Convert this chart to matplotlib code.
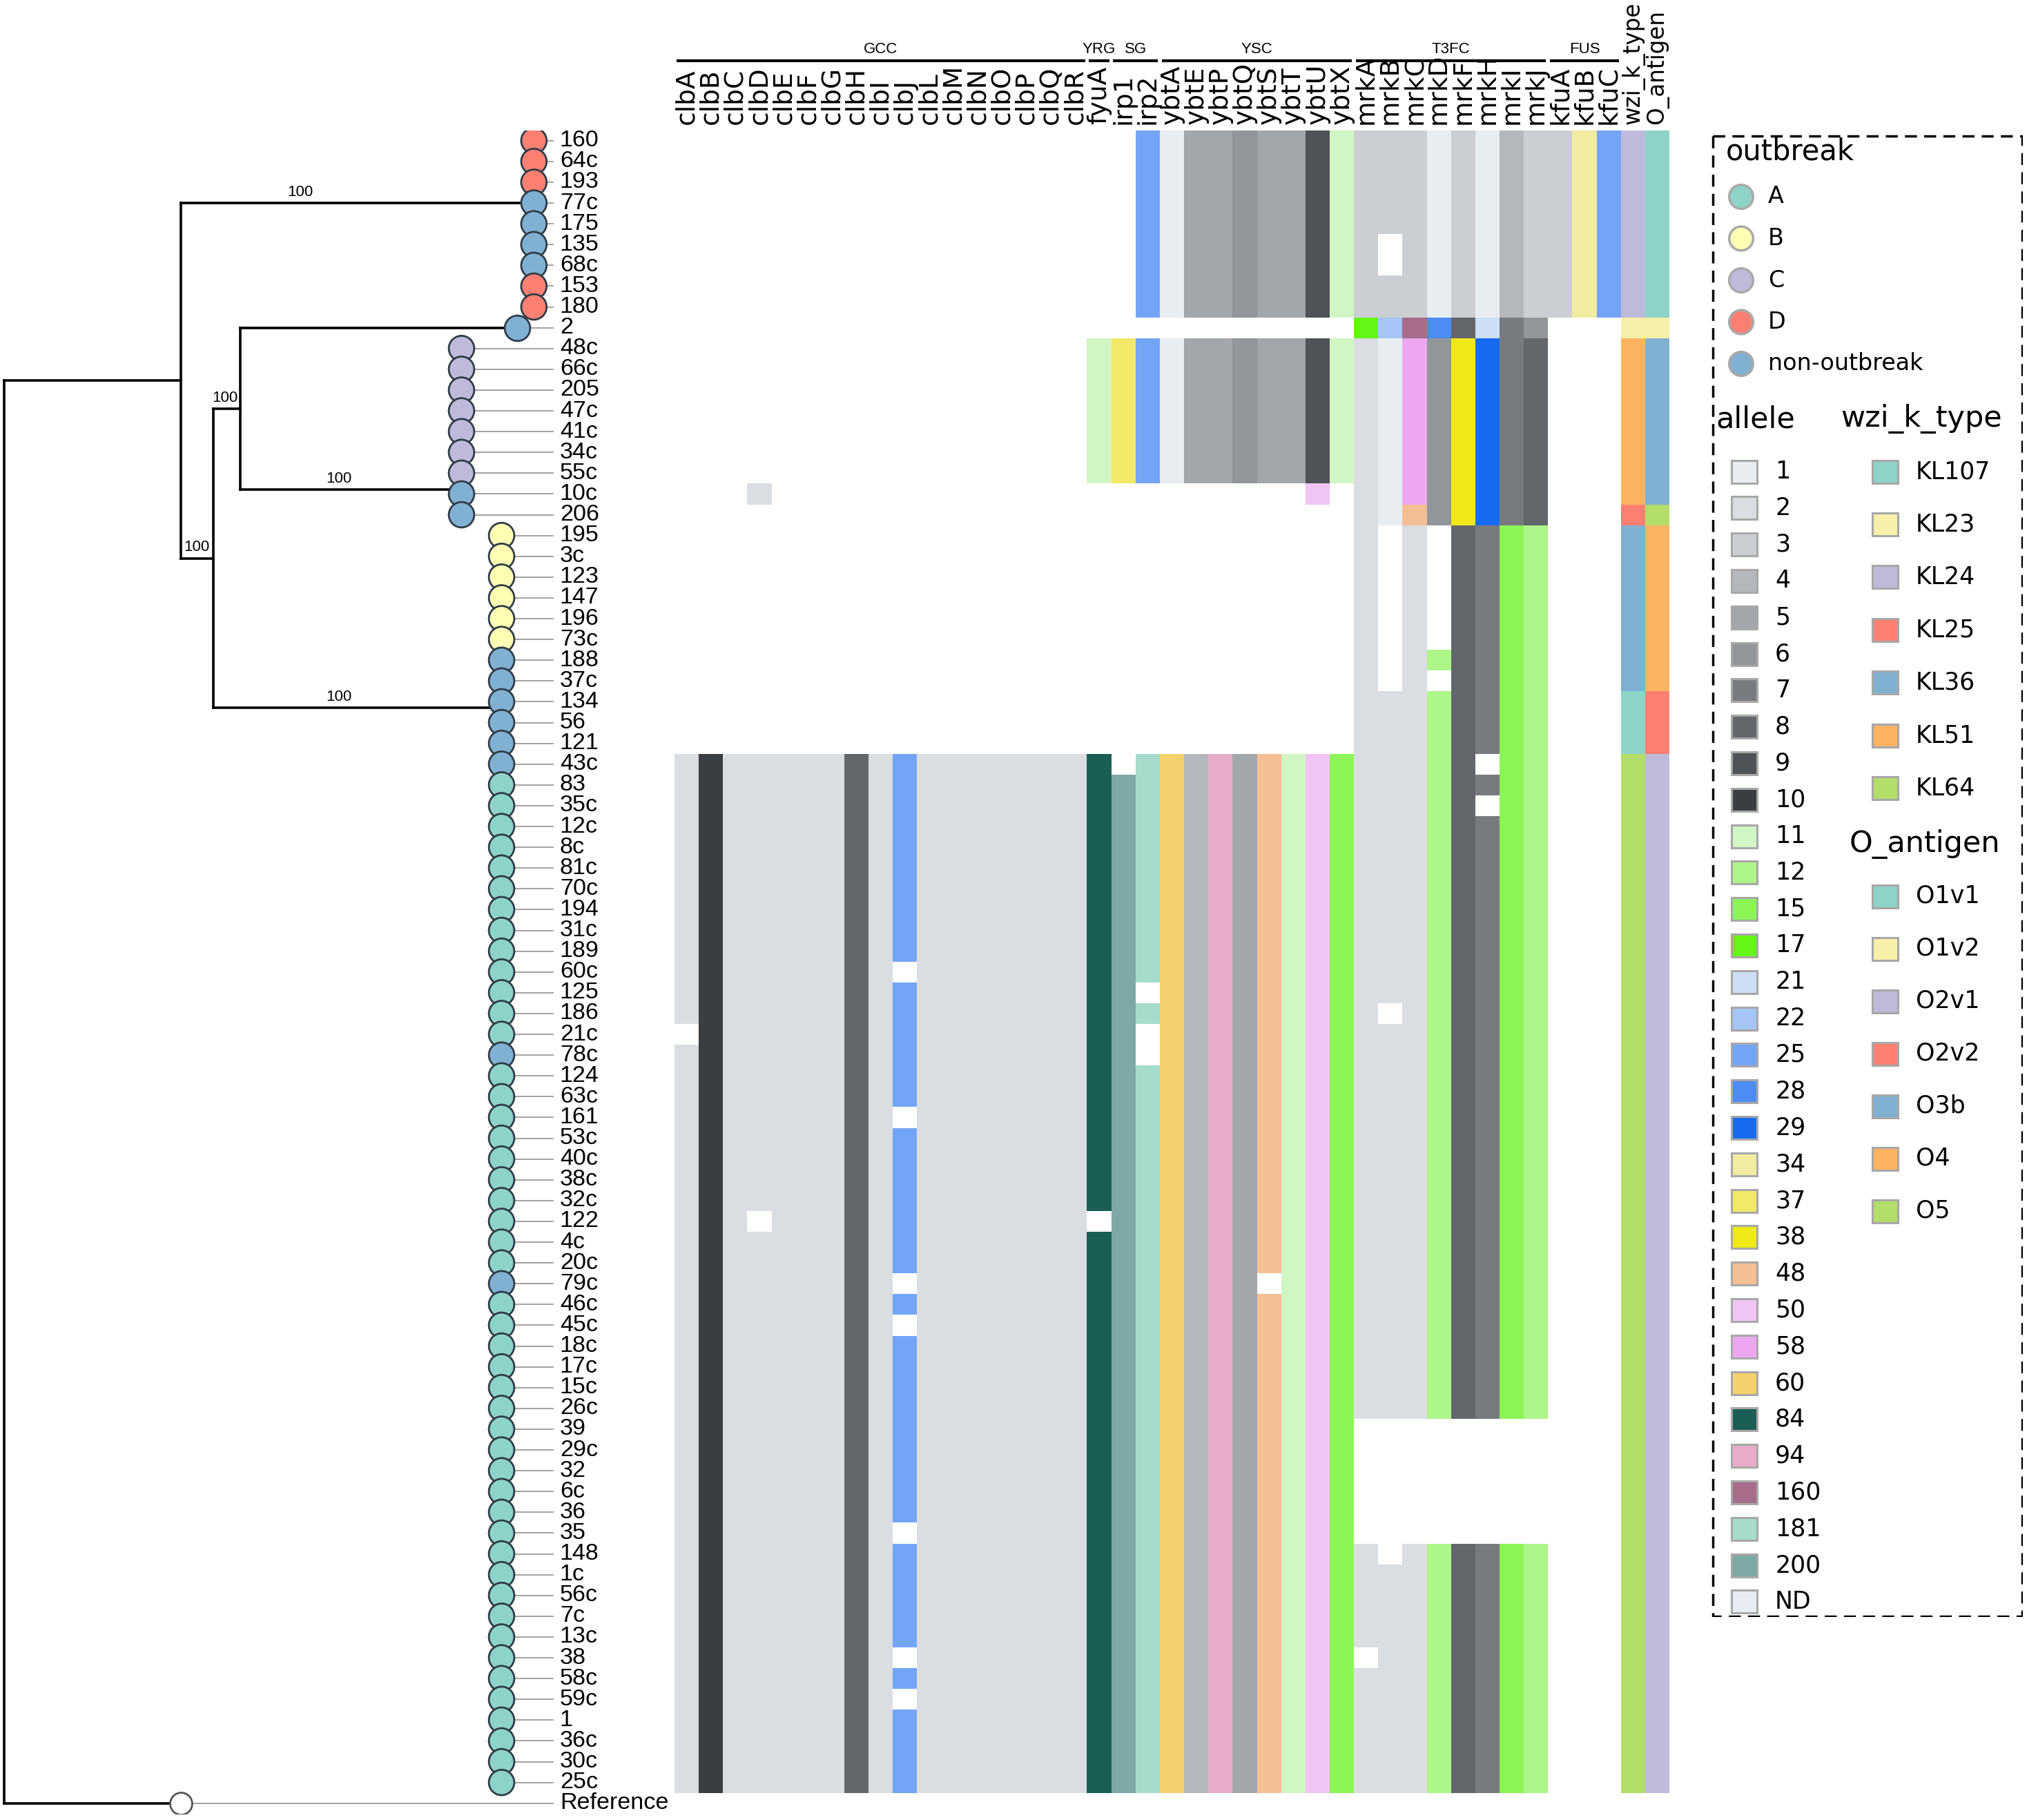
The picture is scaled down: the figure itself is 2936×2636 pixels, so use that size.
import numpy as np
import matplotlib
matplotlib.use("Agg")
import matplotlib.pyplot as plt
import matplotlib.transforms as mtransforms
from matplotlib.colors import ListedColormap, BoundaryNorm
from matplotlib.patches import Rectangle

plt.rcParams["font.family"] = ["DejaVu Sans"]
TIP_FONT = ["Liberation Sans", "DejaVu Sans"]

# ---------------------------------------------------------------- isolates
TIPS = ["160", "64c", "193", "77c", "175", "135", "68c", "153", "180",
        "2",
        "48c", "66c", "205", "47c", "41c", "34c", "55c", "10c", "206",
        "195", "3c", "123", "147", "196", "73c", "188", "37c", "134", "56", "121",
        "43c", "83", "35c", "12c", "8c", "81c", "70c", "194", "31c", "189",
        "60c", "125", "186", "21c", "78c", "124", "63c", "161", "53c", "40c",
        "38c", "32c", "122", "4c", "20c", "79c", "46c", "45c", "18c", "17c",
        "15c", "26c", "39", "29c", "32", "6c", "36", "35", "148", "1c",
        "56c", "7c", "13c", "38", "58c", "59c", "1", "36c", "30c", "25c"]
# outbreak per isolate (A-D, N = non-outbreak), in rows of ten
OUTBREAK = ("DDDNNNNDDN" "CCCCCCCNNB" "BBBBBNNNNN" "NAAAAAAAAA"
            "AAAANAAAAA" "AAAAANAAAA" "AAAAAAAAAA" "AAAAAAAAAA")
OUTBREAK_NAMES = {"A": "A", "B": "B", "C": "C", "D": "D", "N": "non-outbreak"}
OUTBREAK_COLORS = {"A": "#8dd3c7", "B": "#ffffb3", "C": "#bebada",
                   "D": "#fb8072", "N": "#80b1d3"}

# ---------------------------------------------------------------- tree
# internal nodes: depth (tree units) and children
NODES = {"root": (3, ["n1", "Reference"]),
         "n1": (140, ["D", "nX"]),
         "nX": (165, ["nY", "AB"]),
         "nY": (186, ["tip2", "C"])}
# collapsed clades: depth of tip markers, first row, last row, row the branch meets
CLADES = {"D": (413, 0, 8, 3.0),
          "tip2": (400, 9, 9, 9.0),
          "C": (357, 10, 18, 16.8),
          "AB": (388, 19, 79, 27.3)}
REFERENCE_DEPTH = 140
# bootstrap support on the branch leading to a child, and x of its label
SUPPORT = {"D": (100, 232), "nX": (100, 152), "nY": (100, 174),
           "C": (100, 262), "AB": (100, 262)}

# ---------------------------------------------------------------- genes
GENES = ["clbA", "clbB", "clbC", "clbD", "clbE", "clbF", "clbG", "clbH", "clbI",
         "clbJ", "clbL", "clbM", "clbN", "clbO", "clbP", "clbQ", "clbR",
         "fyuA", "irp1", "irp2",
         "ybtA", "ybtE", "ybtP", "ybtQ", "ybtS", "ybtT", "ybtU", "ybtX",
         "mrkA", "mrkB", "mrkC", "mrkD", "mrkF", "mrkH", "mrkI", "mrkJ",
         "kfuA", "kfuB", "kfuC"]
TYPING = ["wzi_k_type", "O_antigen"]
GROUPS = [("GCC", 0, 16), ("YRG", 17, 17), ("SG", 18, 19),
          ("YSC", 20, 27), ("T3FC", 28, 35), ("FUS", 36, 38)]

# allele calls: (first row, last row, allele); rows not listed are blank
GCC_CALLS = {
    "clbA": [(30, 42, "2"), (44, 79, "2")],
    "clbB": [(30, 79, "10")],
    "clbC": [(30, 79, "2")],
    "clbD": [(17, 17, "2"), (30, 51, "2"), (53, 79, "2")],
    "clbE": [(30, 79, "2")],
    "clbF": [(30, 79, "2")],
    "clbG": [(30, 79, "2")],
    "clbH": [(30, 79, "8")],
    "clbI": [(30, 79, "2")],
    "clbJ": [(30, 39, "25"), (41, 46, "25"), (48, 54, "25"), (56, 56, "25"),
             (58, 66, "25"), (68, 72, "25"), (74, 74, "25"), (76, 79, "25")],
    "clbL": [(30, 79, "2")],
    "clbM": [(30, 79, "2")],
    "clbN": [(30, 79, "2")],
    "clbO": [(30, 79, "2")],
    "clbP": [(30, 79, "2")],
    "clbQ": [(30, 79, "2")],
    "clbR": [(30, 79, "2")],
}
YRG_SG_CALLS = {
    "fyuA": [(10, 16, "11"), (30, 51, "84"), (53, 79, "84")],
    "irp1": [(10, 16, "37"), (31, 79, "200")],
    "irp2": [(0, 8, "25"), (10, 16, "25"), (30, 40, "181"), (42, 42, "181"),
             (45, 79, "181")],
}
YSC_CALLS = {
    "ybtA": [(0, 8, "1"), (10, 16, "1"), (30, 79, "60")],
    "ybtE": [(0, 8, "5"), (10, 16, "5"), (30, 79, "4")],
    "ybtP": [(0, 8, "5"), (10, 16, "5"), (30, 79, "94")],
    "ybtQ": [(0, 8, "6"), (10, 16, "6"), (30, 79, "5")],
    "ybtS": [(0, 8, "5"), (10, 16, "5"), (30, 54, "48"), (56, 79, "48")],
    "ybtT": [(0, 8, "5"), (10, 16, "5"), (30, 79, "11")],
    "ybtU": [(0, 8, "9"), (10, 16, "9"), (17, 17, "50"), (30, 79, "50")],
    "ybtX": [(0, 8, "11"), (10, 16, "11"), (30, 79, "15")],
}
T3FC_CALLS = {
    "mrkA": [(0, 8, "3"), (9, 9, "17"), (10, 61, "2"), (68, 72, "2"), (74, 79, "2")],
    "mrkB": [(0, 4, "3"), (7, 8, "3"), (9, 9, "22"), (10, 18, "1"),
             (27, 41, "2"), (43, 61, "2"), (69, 79, "2")],
    "mrkC": [(0, 8, "3"), (9, 9, "160"), (10, 17, "58"), (18, 18, "48"),
             (19, 61, "2"), (68, 79, "2")],
    "mrkD": [(0, 8, "1"), (9, 9, "28"), (10, 18, "6"), (25, 25, "12"),
             (27, 61, "12"), (68, 79, "12")],
    "mrkF": [(0, 8, "3"), (9, 9, "8"), (10, 18, "38"), (19, 61, "8"), (68, 79, "8")],
    "mrkH": [(0, 8, "1"), (9, 9, "21"), (10, 18, "29"), (19, 29, "7"),
             (31, 31, "7"), (33, 61, "7"), (68, 79, "7")],
    "mrkI": [(0, 8, "4"), (9, 9, "7"), (10, 18, "7"), (19, 61, "15"), (68, 79, "15")],
    "mrkJ": [(0, 8, "3"), (9, 9, "6"), (10, 18, "8"), (19, 61, "12"), (68, 79, "12")],
}
FUS_CALLS = {
    "kfuA": [(0, 8, "3")],
    "kfuB": [(0, 8, "34")],
    "kfuC": [(0, 8, "25")],
}
TYPING_CALLS = {
    "wzi_k_type": [(0, 8, "KL24"), (9, 9, "KL23"), (10, 17, "KL51"), (18, 18, "KL25"),
                   (19, 26, "KL36"), (27, 29, "KL107"), (30, 79, "KL64")],
    "O_antigen": [(0, 8, "O1v1"), (9, 9, "O1v2"), (10, 17, "O3b"), (18, 18, "O5"),
                  (19, 26, "O4"), (27, 29, "O2v2"), (30, 79, "O2v1")],
}

ALLELES = ["1", "2", "3", "4", "5", "6", "7", "8", "9", "10", "11", "12", "15", "17",
           "21", "22", "25", "28", "29", "34", "37", "38", "48", "50", "58", "60",
           "84", "94", "160", "181", "200", "ND"]
ALLELE_COLORS = ["#e8edf2", "#dadde1", "#cbced2", "#b4b7bb", "#a3a7ab", "#929599",
                 "#777b7f", "#63666b", "#4f5256", "#3a3e41", "#d1f5c3", "#aef58a",
                 "#8cf556", "#62f714", "#cddff5", "#a4c5f5", "#73a5f7", "#4b8df2",
                 "#166cf0", "#f2eca0", "#f2e968", "#f0e916", "#f4bf95", "#f0c5f4",
                 "#eca7f0", "#f3d16c", "#1b5e55", "#e7adc8", "#a76c89", "#a5dccc",
                 "#7ca9a5", "#e8edf4"]
K_TYPES = ["KL107", "KL23", "KL24", "KL25", "KL36", "KL51", "KL64"]
O_TYPES = ["O1v1", "O1v2", "O2v1", "O2v2", "O3b", "O4", "O5"]
SET3 = ["#8dd3c7", "#f6f0aa", "#bebada", "#fb8072", "#80b1d3", "#fdb462", "#b3de69"]

# ---------------------------------------------------------------- layout
W, H, DPI = 2936, 2636, 100
HEAT_L, HEAT_R = 977, 2418
ROW_TOP, ROW_BOT = 188.7, 2626.8
N_ROWS = len(TIPS) + 1          # + Reference

fig = plt.figure(figsize=(W / DPI, H / DPI), dpi=DPI)
fig.patch.set_facecolor("white")
ax_b = 1 - ROW_BOT / H
ax_hgt = (ROW_BOT - ROW_TOP) / H

# ---------------------------------------------------------------- heatmap
columns = GENES + TYPING
categories = ALLELES + ["K:" + k for k in K_TYPES] + ["O:" + o for o in O_TYPES]
cat_colors = ALLELE_COLORS + SET3 + SET3
cat_index = {c: i for i, c in enumerate(categories)}

calls = {}
for table in (GCC_CALLS, YRG_SG_CALLS, YSC_CALLS, T3FC_CALLS, FUS_CALLS):
    calls.update(table)

codes = np.full((len(TIPS), len(columns)), np.nan)
for j, col in enumerate(columns):
    if col in TYPING_CALLS:
        prefix = "K:" if col == "wzi_k_type" else "O:"
        runs = [(a, b, prefix + v) for a, b, v in TYPING_CALLS[col]]
    else:
        runs = calls.get(col, [])
    for a, b, v in runs:
        codes[a:b + 1, j] = cat_index[v]

cmap = ListedColormap(cat_colors)
cmap.set_bad("white")
norm = BoundaryNorm(np.arange(len(categories) + 1) - 0.5, len(categories))

ax_h = fig.add_axes([HEAT_L / W, ax_b, (HEAT_R - HEAT_L) / W, ax_hgt])
ax_h.pcolormesh(np.arange(len(columns) + 1) - 0.5, np.arange(len(TIPS) + 1) - 0.5,
                np.ma.masked_invalid(codes), cmap=cmap, norm=norm,
                antialiased=False, linewidth=0)
ax_h.set_xlim(-0.5, len(columns) - 0.5)
ax_h.set_ylim(N_ROWS - 0.5, -0.5)
ax_h.xaxis.tick_top()
ax_h.set_xticks(range(len(columns)))
ax_h.set_xticklabels(columns, rotation=90, fontsize=27)
for lab in ax_h.get_xticklabels()[-2:]:
    lab.set_fontsize(23.5)
ax_h.tick_params(axis="x", length=0, pad=6)
ax_h.set_yticks([])
for s in ax_h.spines.values():
    s.set_visible(False)

trans = mtransforms.blended_transform_factory(ax_h.transData, ax_h.transAxes)
line_y = 1 + (ROW_TOP - 88) / (ROW_BOT - ROW_TOP)
for name, c0, c1 in GROUPS:
    ax_h.plot([c0 - 0.42, c1 + 0.42], [line_y, line_y], transform=trans,
              color="black", lw=3, solid_capstyle="butt", clip_on=False)
    ax_h.text((c0 + c1) / 2, line_y + 0.0025, name, transform=trans,
              ha="center", va="bottom", fontsize=16, family=TIP_FONT)

# ---------------------------------------------------------------- tree
ax_t = fig.add_axes([0, ax_b, HEAT_L / W, ax_hgt])
ax_t.set_xlim(0, HEAT_L * 1568 / W)
ax_t.set_ylim(N_ROWS - 0.5, -0.5)
ax_t.axis("off")

REF_ROW = len(TIPS)
LABEL_X = 433


def depth(name):
    if name in NODES:
        return NODES[name][0]
    if name in CLADES:
        return CLADES[name][0]
    return REFERENCE_DEPTH


def ypos(name):
    if name in NODES:
        ys = [ypos(c) for c in NODES[name][1]]
        return (min(ys) + max(ys)) / 2
    if name in CLADES:
        return CLADES[name][3]
    return REF_ROW


for node, (d, children) in NODES.items():
    ys = [ypos(c) for c in children]
    ax_t.plot([d, d], [min(ys), max(ys)], color="black", lw=2.6,
              solid_capstyle="projecting")
    for c in children:
        ax_t.plot([d, depth(c)], [ypos(c), ypos(c)], color="black", lw=2.6,
                  solid_capstyle="projecting")
        if c in SUPPORT:
            val, lx = SUPPORT[c]
            ax_t.text(lx, ypos(c) - 0.18, str(val), ha="center", va="bottom",
                      fontsize=16, family=TIP_FONT)

# connectors and tip markers
for clade, (d, r0, r1, _) in CLADES.items():
    rows = np.arange(r0, r1 + 1)
    for r in rows:
        ax_t.plot([d, LABEL_X - 5], [r, r], color="#9a9a9a", lw=1.3, zorder=1)
    ax_t.scatter(np.full(len(rows), d), rows, s=26.5 ** 2,
                 c=[OUTBREAK_COLORS[OUTBREAK[r]] for r in rows],
                 edgecolors="#2f3c48", linewidths=2, zorder=3)
ax_t.plot([REFERENCE_DEPTH, LABEL_X - 5], [REF_ROW, REF_ROW], color="#9a9a9a",
          lw=1.3, zorder=1)
ax_t.scatter([REFERENCE_DEPTH], [REF_ROW], s=23 ** 2, facecolors="white",
             edgecolors="#555555", linewidths=2, zorder=3)

for r, name in enumerate(TIPS + ["Reference"]):
    ax_t.text(LABEL_X, r, name, ha="left", va="center", fontsize=24.5,
              family=TIP_FONT, clip_on=False)

# ---------------------------------------------------------------- legend
BOX_L, BOX_T, BOX_R, BOX_B = 2479, 195, 2930, 2342
ax_l = fig.add_axes([BOX_L / W, 1 - BOX_B / H, (BOX_R - BOX_L) / W, (BOX_B - BOX_T) / H])
ax_l.set_xlim(0, BOX_R - BOX_L)
ax_l.set_ylim(BOX_B - BOX_T, 0)
ax_l.axis("off")
ax_l.add_patch(Rectangle((1.5, 1.5), BOX_R - BOX_L - 3, BOX_B - BOX_T - 3, fill=False,
                         edgecolor="black", lw=2.5, linestyle=(0, (5, 3))))

ax_l.text(21, 24, "outbreak", fontsize=30, ha="left", va="center")
ob_keys = list(OUTBREAK_NAMES)
ob_y = 90 + 60.5 * np.arange(len(ob_keys))
ax_l.scatter(np.full(len(ob_keys), 43), ob_y, s=25 ** 2,
             c=[OUTBREAK_COLORS[k] for k in ob_keys], edgecolors="#a9a9a9",
             linewidths=2.5)
for k, y in zip(ob_keys, ob_y):
    ax_l.text(82, y, OUTBREAK_NAMES[k], fontsize=24, ha="left", va="center")


def swatches(x, y0, step, labels, colors):
    for i, (lab, col) in enumerate(zip(labels, colors)):
        y = y0 + step * i
        ax_l.add_patch(Rectangle((x - 18.5, y - 16.5), 37, 33, facecolor=col,
                                 edgecolor="#a8a8a8", lw=2.2))
        ax_l.text(x + 45, y, lab, fontsize=25, ha="left", va="center")


ax_l.text(6, 412, "allele", fontsize=31, ha="left", va="center")
swatches(47, 488, 52.8, ALLELES, ALLELE_COLORS)
ax_l.text(187, 412, "wzi_k_type", fontsize=31, ha="left", va="center")
swatches(251, 488, 76.4, K_TYPES, SET3)
ax_l.text(200, 1028, "O_antigen", fontsize=31, ha="left", va="center")
swatches(251, 1103, 76.0, O_TYPES, SET3)

fig.savefig("out.png", dpi=DPI)
